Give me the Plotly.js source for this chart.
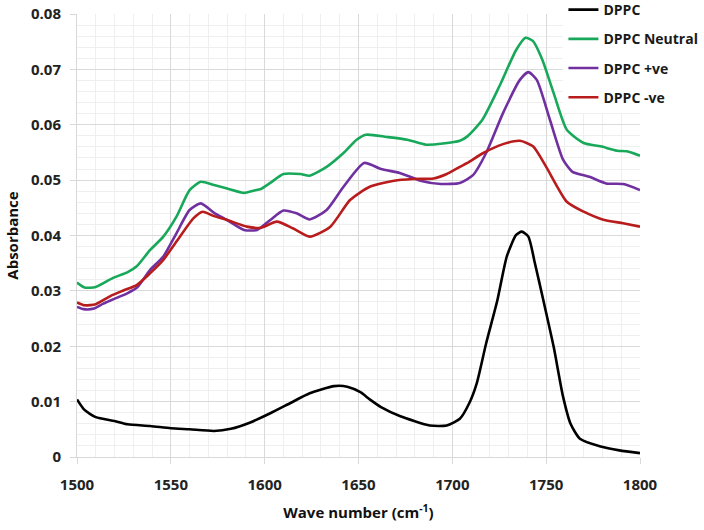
<!DOCTYPE html>
<html>
<head>
<meta charset="utf-8">
<script src="https://cdn.plot.ly/plotly-3.0.1.min.js"></script>
<style>html,body{margin:0;padding:0;background:#fff;}#chart{width:704px;height:530px;}</style>
</head>
<body>
<div id="chart"></div>
<script>
// Series names
const seriesNames = ["DPPC", "DPPC Neutral", "DPPC +ve", "DPPC -ve"];

// DPPC (black)
const wnDPPC = [1500,1504,1510,1520,1527,1539,1550,1560,1573,1582,1592,1603,1614,1624,1637,1644,1651,1656,1662,1672,1688,1697,1704,1709,1713,1718,1724,1729,1734,1737,1740.5,1744,1748.5,1754,1759,1763,1768,1779,1789,1800];
const absDPPC = [0.0104,0.0085,0.0072,0.0065,0.0059,0.0056,0.0052,0.0050,0.0047,0.0051,0.0062,0.0079,0.0098,0.0115,0.0128,0.0127,0.0117,0.0104,0.0090,0.0074,0.0057,0.0057,0.0069,0.0097,0.0133,0.0205,0.0283,0.0362,0.0401,0.0407,0.0398,0.0350,0.0283,0.0199,0.0109,0.0060,0.0033,0.0019,0.0012,0.0007];

// DPPC Neutral (green)
const wnNeutral = [1500,1504,1510,1519,1527,1532,1539,1546,1553,1560,1566,1573,1580,1589,1594,1598,1603,1610,1619,1624,1633,1642,1649,1654,1665,1676,1686,1695,1704,1708,1716,1725,1734,1739,1743,1748,1754,1761,1770,1779,1788,1793,1800];
const absNeutral = [0.0315,0.0306,0.0307,0.0323,0.0334,0.0345,0.0374,0.0398,0.0434,0.0482,0.0497,0.0491,0.0485,0.0477,0.0481,0.0484,0.0495,0.0511,0.0511,0.0508,0.0524,0.0549,0.0573,0.0582,0.0578,0.0573,0.0564,0.0566,0.0571,0.0579,0.0609,0.0669,0.0735,0.0757,0.0751,0.0717,0.0657,0.0591,0.0567,0.0561,0.0553,0.0552,0.0544];

// DPPC +ve (purple)
const wnPos = [1500,1503.5,1509,1514,1519.5,1527,1532,1539,1546,1553,1560,1566,1573,1580,1589,1596,1603,1610,1617,1624,1633,1642,1653,1662,1672,1683,1694,1704,1711,1718,1727,1736,1740.5,1745,1752,1759,1764,1773,1782,1791,1800];
const absPos = [0.0271,0.0267,0.0268,0.0277,0.0285,0.0296,0.0306,0.0338,0.0362,0.0404,0.0446,0.0458,0.0441,0.0428,0.0410,0.0410,0.0428,0.0445,0.0440,0.0429,0.0446,0.0488,0.0531,0.0520,0.0513,0.0499,0.0493,0.0495,0.0509,0.0549,0.0621,0.0681,0.0695,0.0681,0.0609,0.0537,0.0515,0.0506,0.0494,0.0493,0.0482];

// DPPC -ve (red)
const wnNeg = [1500,1504,1510,1518,1525,1532,1539,1546,1553,1562,1567,1573,1580,1590.5,1598,1606.5,1615,1624,1635,1645.5,1656,1669,1679,1690,1697,1704,1708,1716.5,1727,1736,1743,1750,1761,1770,1780,1791,1800];
const absNeg = [0.0279,0.0274,0.0276,0.0291,0.0301,0.0311,0.0332,0.0356,0.0389,0.0431,0.0443,0.0435,0.0428,0.0416,0.0414,0.0425,0.0413,0.0398,0.0416,0.0464,0.0488,0.0499,0.0502,0.0503,0.0511,0.0524,0.0531,0.0549,0.0565,0.0571,0.0561,0.0524,0.0461,0.0443,0.0429,0.0422,0.0416];

const colors = ["#000000", "#18a85a", "#7030a0", "#b81c1c"];
const xs = [wnDPPC, wnNeutral, wnPos, wnNeg];
const ys = [absDPPC, absNeutral, absPos, absNeg];

const traces = seriesNames.map((n, i) => ({
  x: xs[i], y: ys[i], name: n, type: "scatter", mode: "lines",
  legendgroup: "g" + i,
  line: {color: colors[i], width: 2.6, shape: "spline", smoothing: 0.6}
}));

const fontFam = "'Open Sans', 'Noto Sans', sans-serif";
const layout = {
  width: 704, height: 530,
  margin: {l: 77, r: 64, t: 14, b: 73, autoexpand: false},
  paper_bgcolor: "#fff", plot_bgcolor: "#fff",
  showlegend: true,
  legend: {
    x: 0.864, xanchor: "left", y: 1.045, yanchor: "top",
    bgcolor: "#ffffff", borderwidth: 0,
    font: {family: fontFam, size: 14, color: "#1a1a1a", weight: "bold"},
    tracegroupgap: 8, itemwidth: 30
  },
  xaxis: {
    range: [1500, 1800], dtick: 50, tick0: 1500,
    showgrid: true, gridcolor: "#d9d9d9", gridwidth: 1,
    minor: {dtick: 10, showgrid: true, gridcolor: "#efefef", gridwidth: 1},
    showline: true, linecolor: "#d9d9d9", linewidth: 1,
    ticks: "outside", ticklen: 6, tickcolor: "#d9d9d9",
    ticklabelstandoff: 8,
    zeroline: false,
    tickfont: {family: fontFam, size: 15, color: "#222", weight: "bold"},
    title: {text: "Wave number (cm<sup>-1</sup>)", standoff: 14,
            font: {family: fontFam, size: 15, color: "#111", weight: "bold"}}
  },
  yaxis: {
    range: [0, 0.08], dtick: 0.01, tick0: 0,
    showgrid: true, gridcolor: "#d9d9d9", gridwidth: 1,
    minor: {dtick: 0.002, showgrid: true, gridcolor: "#efefef", gridwidth: 1},
    showline: true, linecolor: "#d9d9d9", linewidth: 1,
    ticks: "outside", ticklen: 6, tickcolor: "#d9d9d9",
    ticklabelstandoff: 6,
    zeroline: false,
    tickfont: {family: fontFam, size: 15, color: "#222", weight: "bold"},
    title: {text: "Absorbance", standoff: 8,
            font: {family: fontFam, size: 15, color: "#111", weight: "bold"}}
  }
};

Plotly.newPlot("chart", traces, layout, {displayModeBar: false, staticPlot: true});
</script>
</body>
</html>
